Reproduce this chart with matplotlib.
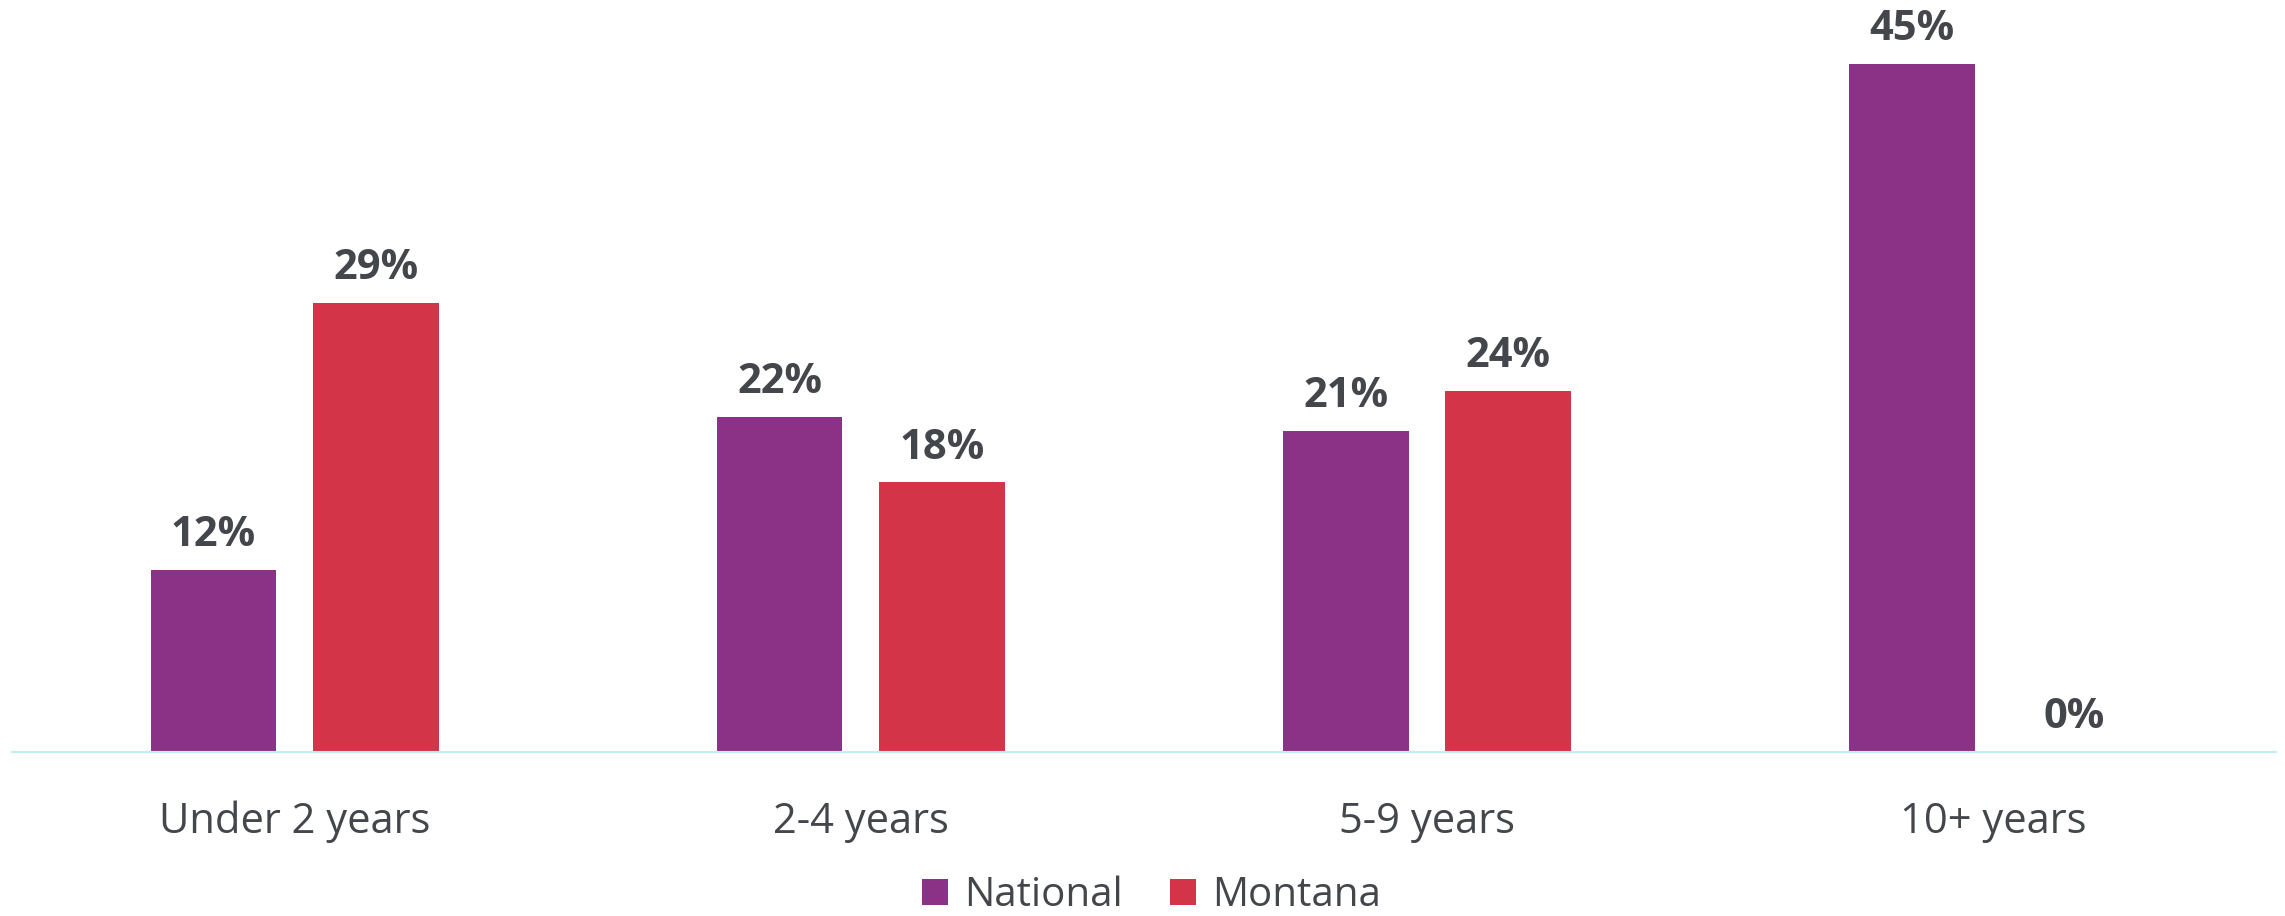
import matplotlib
matplotlib.use('Agg')
import matplotlib.pyplot as plt
import numpy as np

categories = ['Under 2 years', '2-4 years', '5-9 years', '10+ years']
national = [11.9, 21.9, 20.95, 44.95]
montana = [29.3, 17.6, 23.6, 0.0]
series_names = ['National', 'Montana']

purple = '#8B3286'
red = '#D43447'
text_col = '#43464B'

plt.rcParams['font.family'] = ['Open Sans', 'DejaVu Sans']

fig = plt.figure(figsize=(22.85, 9.16), dpi=100)
ax = fig.add_axes([0.0051, 0.179, 0.991, 0.821])

x = np.arange(len(categories))
w = 0.222
off = 0.1435
b1 = ax.bar(x - off, national, w, color=purple, label=series_names[0])
b2 = ax.bar(x + off, montana, w, color=red, label=series_names[1])

for bars, vals in [(b1, national), (b2, montana)]:
    for rect, v in zip(bars, vals):
        ax.annotate(f'{v:.0f}%', (rect.get_x() + rect.get_width() / 2, v),
                    xytext=(0, 10), textcoords='offset points',
                    ha='center', va='bottom', fontsize=30, fontweight='bold',
                    color=text_col)

ax.set_xlim(-0.5, 3.5)
ax.set_ylim(0, 49.1)
ax.set_xticks(x)
ax.set_xticklabels(categories, fontsize=30, color=text_col)
ax.tick_params(axis='x', length=0, pad=35)
ax.set_yticks([])
for s in ['top', 'left', 'right']:
    ax.spines[s].set_visible(False)
ax.spines['bottom'].set_color('#BFEFF7')
ax.spines['bottom'].set_linewidth(1.5)

leg = fig.legend(loc='center', bbox_to_anchor=(0.504, 0.022), ncol=2, frameon=False,
                 fontsize=29, handlelength=0.645, handleheight=0.645,
                 handletextpad=0.4, columnspacing=1.17, borderpad=0)
for t in leg.get_texts():
    t.set_color(text_col)

fig.savefig('out.png', dpi=100)
